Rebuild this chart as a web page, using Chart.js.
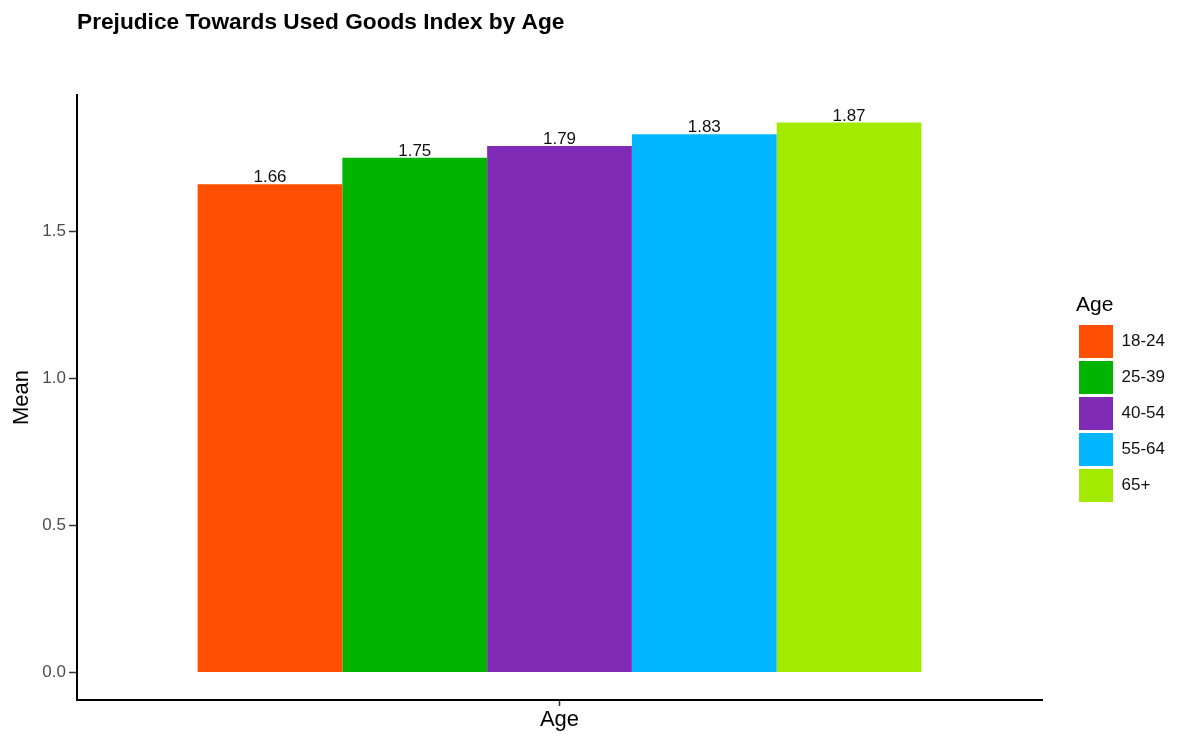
<!DOCTYPE html>
<html>
<head>
<meta charset="utf-8">
<title>Prejudice Towards Used Goods Index by Age</title>
<script src="https://cdn.jsdelivr.net/npm/chart.js@4/dist/chart.umd.min.js"></script>
<style>
  html, body { margin: 0; padding: 0; background: #ffffff; }
  #wrap { width: 1181px; height: 736px; }
</style>
</head>
<body>
<div id="wrap"><canvas id="chart" width="1181" height="736"></canvas></div>
<script>
// Age groups and their mean index values
const ageGroups = ['18-24', '25-39', '40-54', '55-64', '65+'];
const meanValues = [1.66, 1.75, 1.79, 1.83, 1.87];
const xCategories = ['Age'];
const yTickValues = [0.0, 0.5, 1.0, 1.5];

// Fill colour per age group
const palette = ['#FF4F00', '#00B400', '#7F2BB6', '#00B6FF', '#A2EA00'];

Chart.defaults.font.family = "'Liberation Sans', Arial, sans-serif";

// y range padded by 5% of the data span on both ends
const dataMax = Math.max(...meanValues);
const yMin = -0.05 * dataMax;
const yMax = dataMax * 1.05;

// Writes each bar's value just above it
const valueLabels = {
  id: 'valueLabels',
  afterDatasetsDraw(chart) {
    const ctx = chart.ctx;
    ctx.save();
    ctx.font = "17px 'Liberation Sans', Arial, sans-serif";
    ctx.fillStyle = '#111111';
    ctx.textAlign = 'center';
    ctx.textBaseline = 'alphabetic';
    chart.data.datasets.forEach((ds, i) => {
      chart.getDatasetMeta(i).data.forEach((bar, j) => {
        ctx.fillText(ds.data[j].toFixed(2), bar.x, bar.y - 2);
      });
    });
    ctx.restore();
  }
};

new Chart(document.getElementById('chart'), {
  type: 'bar',
  data: {
    labels: xCategories,
    datasets: ageGroups.map((g, i) => ({
      label: g,
      data: [meanValues[i]],
      backgroundColor: palette[i],
      borderWidth: 0,
      categoryPercentage: 0.75,
      barPercentage: 1.0
    }))
  },
  options: {
    responsive: false,
    animation: false,
    devicePixelRatio: 1,
    layout: { padding: { left: 0, right: 6, top: 0, bottom: 0 } },
    plugins: {
      tooltip: { enabled: false },
      title: {
        display: true,
        text: 'Prejudice Towards Used Goods Index by Age',
        align: 'start',
        fullSize: false,
        color: '#000000',
        font: { size: 22.7, weight: 'bold' },
        padding: { top: 9, bottom: 58.76 }
      },
      legend: {
        display: true,
        position: 'right',
        align: 'center',
        title: {
          display: true,
          text: 'Age',
          position: 'start',
          color: '#000000',
          font: { size: 21 },
          padding: { top: 63.5, bottom: 2.3 }
        },
        labels: {
          boxWidth: 34,
          boxHeight: 33,
          padding: 3,
          color: '#111111',
          font: { size: 17 }
        }
      }
    },
    scales: {
      x: {
        type: 'category',
        grid: {
          display: true,
          drawOnChartArea: false,
          drawTicks: true,
          offset: false,
          tickLength: 6,
          tickWidth: 1.5,
          tickColor: '#333333'
        },
        border: { display: true, color: '#000000', width: 2 },
        ticks: { display: false },
        title: {
          display: true,
          text: 'Age',
          color: '#000000',
          font: { size: 22 },
          padding: { top: 2, bottom: 3 }
        },
        afterFit(scale) { scale.height = 36; }
      },
      y: {
        type: 'linear',
        position: 'left',
        min: yMin,
        max: yMax,
        afterBuildTicks(scale) {
          scale.ticks = yTickValues.map(v => ({ value: v }));
        },
        grid: {
          display: true,
          drawOnChartArea: false,
          drawTicks: true,
          tickLength: 8,
          tickWidth: 1.5,
          tickColor: '#333333'
        },
        border: { display: true, color: '#000000', width: 2 },
        ticks: {
          color: '#4D4D4D',
          font: { size: 17 },
          padding: 3,
          callback: (v) => Number(v).toFixed(1)
        },
        title: {
          display: true,
          text: 'Mean',
          color: '#000000',
          font: { size: 22 },
          padding: { top: 9, bottom: 0 }
        },
        afterFit(scale) { scale.width = 77; }
      },
      // empty spacer between the plot panel and the legend
      gap: {
        type: 'linear',
        position: 'right',
        display: true,
        grid: { display: false },
        border: { display: false },
        ticks: { display: false },
        afterFit(scale) { scale.width = 34; }
      }
    }
  },
  plugins: [valueLabels]
});
</script>
</body>
</html>
